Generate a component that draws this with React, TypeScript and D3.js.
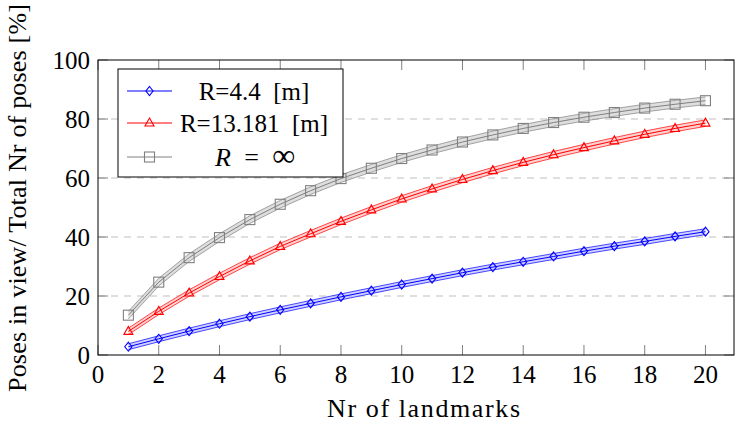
import React from "react";
import * as d3 from "d3";

const landmarks = [1, 2, 3, 4, 5, 6, 7, 8, 9, 10, 11, 12, 13, 14, 15, 16, 17, 18, 19, 20];
const blueValues = [2.8, 5.5, 8.1, 10.6, 13.0, 15.3, 17.5, 19.7, 21.8, 23.9, 25.9, 27.9, 29.8, 31.6, 33.4, 35.2, 36.9, 38.5, 40.2, 41.8];
const redValues = [8.0, 14.8, 21.0, 26.6, 31.9, 36.8, 41.1, 45.3, 49.2, 52.9, 56.3, 59.5, 62.5, 65.3, 67.9, 70.3, 72.6, 74.8, 76.8, 78.6];
const grayValues = [13.5, 24.7, 33.0, 39.8, 45.9, 51.1, 55.7, 59.8, 63.3, 66.6, 69.5, 72.2, 74.6, 76.8, 78.8, 80.6, 82.2, 83.7, 85.0, 86.2];
const blueSpread = 1.0;
const redSpread = 1.1;
const graySpread = 1.3;
const xTicks = [0, 2, 4, 6, 8, 10, 12, 14, 16, 18, 20];
const yTicks = [0, 20, 40, 60, 80, 100];
const gridValues = [20, 40, 60, 80];
const legendLabels = ["R=4.4  [m]", "R=13.181  [m]", "R = ∞"];

const W = 735;
const H = 426;
const font = "'Liberation Serif', 'Times New Roman', Times, serif";

type Series = { values: number[]; spread: number; color: string; fill: string; marker: string };

const series: Series[] = [
  { values: grayValues, spread: graySpread, color: "#808080", fill: "#c8c8c8", marker: "square" },
  { values: redValues, spread: redSpread, color: "#ff0000", fill: "#ffb0b0", marker: "triangle" },
  { values: blueValues, spread: blueSpread, color: "#0000ff", fill: "#b0b0ff", marker: "diamond" },
];

function Marker({ kind, x, y, color }: { kind: string; x: number; y: number; color: string }) {
  if (kind === "square") {
    return <rect x={x - 5} y={y - 5} width={10} height={10} fill="none" stroke={color} strokeWidth={1.1} />;
  }
  if (kind === "triangle") {
    return (
      <path
        d={`M${x},${y - 5} L${x + 4.5},${y + 3} L${x - 4.5},${y + 3} Z`}
        fill="none"
        stroke={color}
        strokeWidth={1.1}
      />
    );
  }
  return (
    <path
      d={`M${x},${y - 4.5} L${x + 3.6},${y} L${x},${y + 4.5} L${x - 3.6},${y} Z`}
      fill="none"
      stroke={color}
      strokeWidth={1.1}
    />
  );
}

export default function App() {
  const x = d3.scaleLinear().domain([0, 20.94]).range([98, 734]);
  const y = d3.scaleLinear().domain([0, 100]).range([355, 60]);
  const line = d3
    .line<[number, number]>()
    .x((d) => x(d[0]))
    .y((d) => y(d[1]));
  const area = d3
    .area<[number, number, number]>()
    .x((d) => x(d[0]))
    .y0((d) => y(d[1]))
    .y1((d) => y(d[2]));

  const legendX = 118;
  const legendY = 69;
  const legendW = 225;
  const legendH = 108;
  const rowYs = [91, 123, 157];

  return (
    <svg width={W} height={H} style={{ position: "absolute", left: 0, top: 0, background: "#fff" }}>
      <rect x={0} y={0} width={W} height={H} fill="#fff" />
      {gridValues.map((g) => (
        <line key={g} x1={98} x2={734} y1={y(g)} y2={y(g)} stroke="#bfbfbf" strokeWidth={1} strokeDasharray="7,6" />
      ))}
      {xTicks.map((t) => (
        <g key={"xt" + t}>
          <line x1={x(t)} x2={x(t)} y1={355} y2={345} stroke="#808080" strokeWidth={1} />
          <line x1={x(t)} x2={x(t)} y1={60} y2={70} stroke="#808080" strokeWidth={1} />
          <text x={x(t)} y={383} fontSize={25} fontFamily={font} textAnchor="middle" fill="#000">
            {t}
          </text>
        </g>
      ))}
      {yTicks.map((t) => (
        <g key={"yt" + t}>
          <line x1={98} x2={108} y1={y(t)} y2={y(t)} stroke="#808080" strokeWidth={1} />
          <line x1={724} x2={734} y1={y(t)} y2={y(t)} stroke="#808080" strokeWidth={1} />
          <text x={90} y={y(t)} dy="0.34em" fontSize={25} fontFamily={font} textAnchor="end" fill="#000">
            {t}
          </text>
        </g>
      ))}
      {series.map((s, si) => {
        const pts: [number, number][] = landmarks.map((l, i) => [l, s.values[i]]);
        const lo: [number, number][] = landmarks.map((l, i) => [l, s.values[i] - s.spread]);
        const hi: [number, number][] = landmarks.map((l, i) => [l, s.values[i] + s.spread]);
        const band: [number, number, number][] = landmarks.map((l, i) => [l, s.values[i] - s.spread, s.values[i] + s.spread]);
        return (
          <g key={si}>
            <path d={area(band) || ""} fill={s.fill} fillOpacity={0.6} stroke="none" />
            <path d={line(lo) || ""} fill="none" stroke={s.color} strokeWidth={0.7} />
            <path d={line(hi) || ""} fill="none" stroke={s.color} strokeWidth={0.7} />
            <path d={line(pts) || ""} fill="none" stroke={s.color} strokeWidth={1} />
            {pts.map((p, i) => (
              <Marker key={i} kind={s.marker} x={x(p[0])} y={y(p[1])} color={s.color} />
            ))}
          </g>
        );
      })}
      <rect x={98} y={60} width={636} height={295} fill="none" stroke="#000" strokeWidth={1} />
      <rect x={legendX} y={legendY} width={legendW} height={legendH} fill="#fff" stroke="#000" strokeWidth={1} />
      {[series[2], series[1], series[0]].map((s, i) => (
        <g key={"lg" + i}>
          <line x1={127} x2={172} y1={rowYs[i]} y2={rowYs[i]} stroke={s.color} strokeWidth={1} />
          <Marker kind={s.marker} x={149.5} y={rowYs[i]} color={s.color} />
        </g>
      ))}
      <text x={254} y={rowYs[0]} dy="0.34em" fontSize={25} fontFamily={font} textAnchor="middle" style={{ whiteSpace: "pre" }}>
        {legendLabels[0]}
      </text>
      <text x={254} y={rowYs[1]} dy="0.34em" fontSize={25} fontFamily={font} textAnchor="middle" style={{ whiteSpace: "pre" }}>
        {legendLabels[1]}
      </text>
      <text
        x={215}
        y={rowYs[2]}
        dy="0.34em"
        fontSize={26}
        fontFamily={font}
        textLength={80}
        lengthAdjust="spacing"
        style={{ whiteSpace: "pre" }}
      >
        <tspan fontStyle="italic">R</tspan>
        <tspan>{" = "}</tspan>
        <tspan fontSize={32}>∞</tspan>
      </text>
      <text x={327} y={417} fontSize={26} fontFamily={font} textLength={193} lengthAdjust="spacing">
        Nr of landmarks
      </text>
      <text
        transform={`translate(26, ${392}) rotate(-90)`}
        fontSize={26}
        fontFamily={font}
        textLength={388}
        lengthAdjust="spacing"
      >
        Poses in view/ Total Nr of poses [%]
      </text>
    </svg>
  );
}
